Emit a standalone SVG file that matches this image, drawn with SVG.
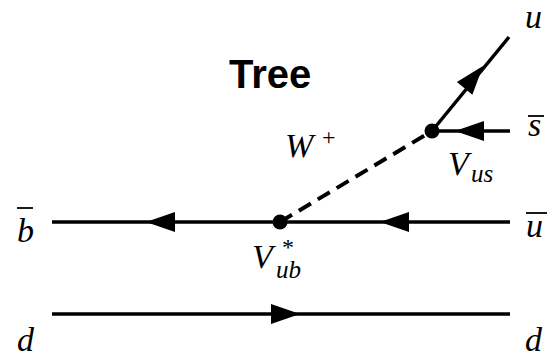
<svg xmlns="http://www.w3.org/2000/svg" width="554" height="356" viewBox="0 0 554 356">
<style>
.ln{stroke:#000;stroke-width:3.5;fill:none;stroke-linecap:butt}
.dash{stroke:#000;stroke-width:4;fill:none;stroke-dasharray:14 8}
.m{font-family:"Liberation Serif","DejaVu Serif",serif;font-style:italic;font-size:34px;fill:#000}
.s{font-family:"Liberation Serif","DejaVu Serif",serif;font-style:italic;font-size:25px;fill:#000}
.r{font-family:"Liberation Serif","DejaVu Serif",serif;font-size:24px;fill:#000}
.bar{stroke:#000;stroke-width:1.8}
.t{font-family:"Liberation Sans",Arial,sans-serif;font-weight:bold;font-size:40px;fill:#000}
</style>
<defs>
<path id="ah" d="M0,0 L-29,-10 L-29,10 Z" fill="#000"/>
</defs>
<rect width="554" height="356" fill="#fff"/>
<g id="connectors">
<line class="ln" x1="52" y1="222" x2="510" y2="222"/>
<line class="ln" x1="52" y1="314" x2="510" y2="314"/>
<line class="ln" x1="432" y1="131" x2="510" y2="131"/>
<line class="ln" x1="432" y1="131" x2="509" y2="37"/>
<line class="dash" x1="280" y1="222" x2="432" y2="131"/>
<use href="#ah" transform="translate(146,222) rotate(180)"/>
<use href="#ah" transform="translate(380,222) rotate(180)"/>
<use href="#ah" transform="translate(300,314)"/>
<use href="#ah" transform="translate(455,131) rotate(180)"/>
<use href="#ah" transform="translate(483,66) rotate(-50.7)"/>
</g>
<g id="title"><text class="t" x="229" y="88">Tree</text></g>
<g id="vertex-us">
<circle cx="432" cy="131" r="7.5" fill="#000"/>
<text class="m" x="448" y="175">V</text><text class="s" x="471" y="182">us</text>
</g>
<g id="vertex-ub">
<circle cx="280" cy="222" r="7.5" fill="#000"/>
<text class="m" x="252" y="268">V</text><text class="s" x="276" y="278">ub</text><text class="r" x="282" y="255">*</text>
</g>
<g id="label-W"><text class="m" x="285" y="157">W</text><text class="r" x="322" y="145">+</text></g>
<g id="label-u"><text class="m" x="525" y="28">u</text></g>
<g id="label-sbar"><line class="bar" x1="528" y1="116" x2="544" y2="116"/><text class="m" x="528" y="136">s</text></g>
<g id="label-ubar"><line class="bar" x1="526" y1="213" x2="547" y2="213"/><text class="m" x="526" y="237">u</text></g>
<g id="label-bbar"><line class="bar" x1="17" y1="208" x2="33" y2="208"/><text class="m" x="17" y="242">b</text></g>
<g id="label-d-left"><text class="m" x="17" y="351">d</text></g>
<g id="label-d-right"><text class="m" x="525" y="351">d</text></g>
</svg>
